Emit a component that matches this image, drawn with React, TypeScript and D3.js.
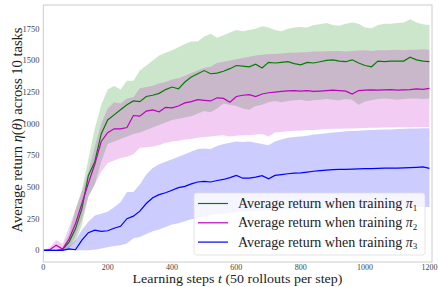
import React, { useEffect, useRef } from 'react'
import * as d3 from 'd3'

// steps every 20 (0 .. 1200)
const steps = d3.range(0, 1201, 20)

const greenMean = [0, 0, 0, 5, 65, 170, 330, 590, 700, 920, 1030, 1070, 1110, 1150, 1180, 1175, 1215, 1225, 1240, 1270, 1290, 1275, 1330, 1370, 1395, 1420, 1395, 1400, 1415, 1435, 1460, 1455, 1450, 1470, 1440, 1485, 1480, 1485, 1490, 1475, 1465, 1485, 1480, 1490, 1500, 1505, 1495, 1490, 1505, 1480, 1460, 1450, 1495, 1490, 1495, 1495, 1495, 1525, 1505, 1495, 1490]
const greenUpper = [0, 0, 0, 20, 130, 320, 480, 720, 960, 1150, 1270, 1300, 1270, 1340, 1340, 1420, 1460, 1500, 1540, 1560, 1580, 1605, 1630, 1650, 1650, 1690, 1710, 1680, 1700, 1720, 1740, 1730, 1740, 1750, 1770, 1760, 1740, 1730, 1750, 1760, 1765, 1760, 1780, 1785, 1795, 1780, 1775, 1790, 1800, 1790, 1760, 1755, 1780, 1790, 1790, 1795, 1800, 1825, 1800, 1785, 1780]
const greenLower = [0, 0, 0, 0, 20, 70, 200, 430, 520, 700, 840, 860, 880, 900, 920, 930, 950, 970, 990, 1010, 1030, 1040, 1050, 1060, 1080, 1100, 1090, 1120, 1160, 1150, 1140, 1120, 1110, 1140, 1150, 1170, 1180, 1170, 1180, 1185, 1190, 1180, 1185, 1190, 1195, 1190, 1185, 1195, 1190, 1150, 1175, 1185, 1195, 1200, 1195, 1190, 1195, 1200, 1200, 1195, 1200]

const magentaMean = [0, 5, 40, 10, 90, 210, 370, 530, 680, 860, 930, 960, 960, 970, 1065, 1060, 1100, 1110, 1095, 1130, 1125, 1140, 1165, 1175, 1190, 1185, 1180, 1205, 1200, 1170, 1215, 1225, 1230, 1215, 1235, 1245, 1250, 1255, 1260, 1262, 1258, 1262, 1255, 1258, 1262, 1265, 1262, 1258, 1235, 1262, 1265, 1268, 1265, 1268, 1270, 1266, 1268, 1270, 1275, 1272, 1280]
const magentaUpper = [0, 20, 80, 50, 180, 320, 460, 620, 820, 1000, 1120, 1170, 1160, 1200, 1210, 1280, 1290, 1300, 1320, 1330, 1350, 1360, 1380, 1400, 1420, 1440, 1450, 1480, 1490, 1500, 1510, 1520, 1530, 1540, 1545, 1550, 1550, 1555, 1560, 1560, 1565, 1565, 1570, 1570, 1572, 1575, 1575, 1570, 1575, 1578, 1580, 1575, 1580, 1580, 1582, 1585, 1580, 1585, 1585, 1588, 1585]
const magentaLower = [0, 0, 10, 0, 20, 110, 250, 420, 520, 620, 690, 710, 730, 740, 760, 810, 815, 820, 830, 850, 860, 865, 875, 880, 890, 895, 900, 905, 910, 900, 905, 910, 910, 915, 920, 900, 930, 935, 940, 945, 945, 950, 950, 955, 958, 960, 960, 962, 962, 965, 966, 968, 968, 970, 970, 972, 972, 973, 974, 975, 975]

const blueMean = [0, 0, 0, 0, 12, 5, 80, 140, 160, 150, 155, 175, 190, 250, 270, 310, 370, 415, 440, 455, 475, 495, 505, 525, 540, 545, 540, 552, 560, 575, 592, 570, 570, 578, 590, 565, 592, 598, 605, 610, 612, 618, 625, 630, 634, 638, 640, 640, 642, 644, 646, 646, 648, 649, 650, 650, 652, 654, 656, 659, 648]
const blueUpper = [0, 0, 0, 0, 30, 80, 160, 225, 275, 290, 305, 340, 380, 460, 460, 520, 600, 650, 680, 700, 720, 740, 760, 780, 800, 805, 800, 825, 840, 850, 860, 855, 860, 850, 840, 830, 860, 875, 890, 895, 900, 905, 915, 920, 925, 930, 935, 940, 942, 945, 948, 950, 952, 955, 955, 958, 960, 962, 962, 964, 964]
const blueLower = [0, 0, 0, 0, 0, 0, 0, 0, 5, 15, 25, 35, 40, 55, 95, 105, 130, 150, 165, 185, 205, 215, 230, 245, 255, 265, 275, 285, 290, 295, 300, 305, 308, 310, 312, 315, 318, 320, 322, 325, 327, 328, 330, 332, 333, 334, 335, 336, 337, 338, 339, 340, 340, 341, 341, 342, 342, 343, 343, 343, 343]

const xTicks = [0, 200, 400, 600, 800, 1000, 1200]
const yTicks = [0, 250, 500, 750, 1000, 1250, 1500, 1750]

const series = [
    { name: '1', color: '#008000', mean: greenMean, upper: greenUpper, lower: greenLower },
    { name: '2', color: '#bf00bf', mean: magentaMean, upper: magentaUpper, lower: magentaLower },
    { name: '3', color: '#0000ff', mean: blueMean, upper: blueUpper, lower: blueLower },
]

const FONT = '"Liberation Serif", "DejaVu Serif", serif'

export default function App() {
    const ref = useRef<SVGSVGElement>(null)

    useEffect(() => {
        const svg = d3.select(ref.current)
        svg.selectAll('*').remove()

        const left = 43.3, right = 432, top = 5, bottom = 262
        const x = d3.scaleLinear().domain([0, 1208]).range([left, right])
        const y = d3.scaleLinear().domain([-92, 1938]).range([bottom, top])

        // bands
        series.forEach(s => {
            const area = d3.area<number>()
                .x((_, i) => x(steps[i]))
                .y0((_, i) => y(s.lower[i]))
                .y1((_, i) => y(s.upper[i]))
            svg.append('path')
                .attr('d', area(steps))
                .attr('fill', s.color)
                .attr('fill-opacity', 0.2)
        })

        // mean lines
        series.forEach(s => {
            const line = d3.line<number>()
                .x((_, i) => x(steps[i]))
                .y((_, i) => y(s.mean[i]))
            svg.append('path')
                .attr('d', line(steps))
                .attr('fill', 'none')
                .attr('stroke', s.color)
                .attr('stroke-width', 1.2)
        })

        // frame
        svg.append('rect')
            .attr('x', left).attr('y', top)
            .attr('width', right - left).attr('height', bottom - top)
            .attr('fill', 'none').attr('stroke', '#cccccc').attr('stroke-width', 1)

        // tick labels
        svg.append('g').selectAll('text').data(xTicks).enter().append('text')
            .attr('x', d => x(d)).attr('y', 269.5)
            .attr('text-anchor', 'middle')
            .attr('font-family', FONT).attr('font-size', 8).attr('fill', '#444')
            .text(d => d)
        svg.append('g').selectAll('text').data(yTicks).enter().append('text')
            .attr('x', 39.5).attr('y', d => y(d) + 3)
            .attr('text-anchor', 'end')
            .attr('font-family', FONT).attr('font-size', 8.5).attr('fill', '#444')
            .text(d => d)

        // x title
        const xt = svg.append('text')
            .attr('x', 237.5).attr('y', 283)
            .attr('text-anchor', 'middle')
            .attr('font-family', FONT).attr('font-size', 13.5).attr('fill', '#222')
            .attr('textLength', 210).attr('lengthAdjust', 'spacingAndGlyphs')
        xt.append('tspan').text('Learning steps ')
        xt.append('tspan').attr('font-style', 'italic').text('t')
        xt.append('tspan').text(' (50 rollouts per step)')

        // y title
        const yt = svg.append('text')
            .attr('transform', 'translate(21.5,130) rotate(-90)')
            .attr('text-anchor', 'middle')
            .attr('font-family', FONT).attr('font-size', 14).attr('fill', '#222')
            .attr('textLength', 205).attr('lengthAdjust', 'spacingAndGlyphs')
        yt.append('tspan').text('Average return ')
        yt.append('tspan').attr('font-style', 'italic').text('η')
        yt.append('tspan').text('(')
        yt.append('tspan').attr('font-style', 'italic').text('θ')
        yt.append('tspan').text(') across 10 tasks')

        // legend
        const lg = svg.append('g')
        lg.append('rect')
            .attr('x', 194).attr('y', 193).attr('width', 231).attr('height', 62)
            .attr('rx', 2.5)
            .attr('fill', 'white').attr('fill-opacity', 0.8)
            .attr('stroke', '#dddddd').attr('stroke-width', 0.8)
        series.forEach((s, i) => {
            const yy = 203.5 + i * 19.3
            lg.append('line')
                .attr('x1', 198).attr('x2', 228).attr('y1', yy).attr('y2', yy)
                .attr('stroke', s.color).attr('stroke-width', 1.2)
            const t = lg.append('text')
                .attr('x', 238).attr('y', yy + 4.5)
                .attr('font-family', FONT).attr('font-size', 14).attr('fill', '#222')
            t.append('tspan').text('Average return when training ')
            t.append('tspan').attr('font-style', 'italic').text('π')
            t.append('tspan').attr('font-size', 9).attr('dy', 2.5).text(s.name)
        })
    }, [])

    return (
        <svg ref={ref} width={438} height={287}
            style={{ position: 'absolute', left: 0, top: 0, background: 'white' }} />
    )
}
